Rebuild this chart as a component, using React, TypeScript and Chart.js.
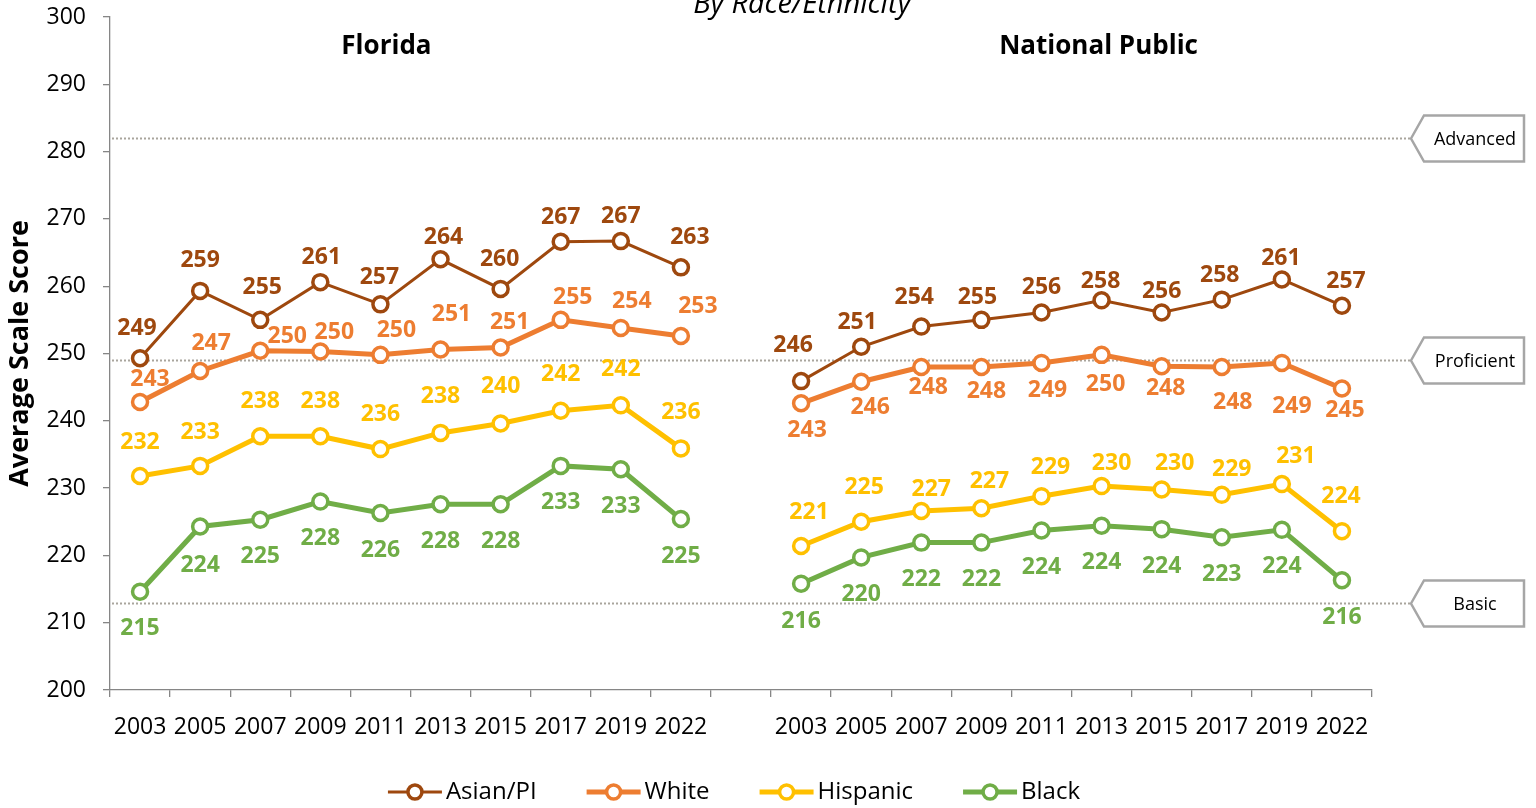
import React, { useEffect, useRef } from 'react';
import { Chart, registerables } from 'chart.js';

Chart.register(...registerables);

const FONT = "'Open Sans', 'Noto Sans', sans-serif";

const years = ['2003', '2005', '2007', '2009', '2011', '2013', '2015', '2017', '2019', '2022'];
const categories = [...years, '', ...years];

const floridaAsian = [249.3, 259.3, 255.0, 260.6, 257.3, 264.0, 259.6, 266.6, 266.7, 262.8];
const floridaWhite = [242.8, 247.4, 250.4, 250.3, 249.8, 250.6, 250.9, 255.0, 253.8, 252.6];
const floridaHispanic = [231.8, 233.3, 237.7, 237.7, 235.8, 238.2, 239.6, 241.5, 242.3, 235.9];
const floridaBlack = [214.6, 224.3, 225.3, 228.0, 226.3, 227.6, 227.6, 233.3, 232.8, 225.4];

const nationalAsian = [245.9, 251.0, 254.0, 255.0, 256.1, 257.9, 256.1, 258.0, 261.0, 257.1];
const nationalWhite = [242.6, 245.8, 248.0, 248.0, 248.6, 249.8, 248.1, 248.0, 248.6, 244.8];
const nationalHispanic = [221.4, 225.0, 226.6, 227.0, 228.8, 230.3, 229.8, 229.0, 230.6, 223.6];
const nationalBlack = [215.8, 219.7, 221.9, 221.9, 223.7, 224.4, 223.9, 222.7, 223.8, 216.3];

const seriesNames = ['Asian/PI', 'White', 'Hispanic', 'Black'];
const seriesColors = ['#9E480E', '#ED7D31', '#FFC000', '#70AD47'];
const seriesLineWidths = [3, 5, 5, 5];

const seriesValues = [
  [...floridaAsian, null, ...nationalAsian],
  [...floridaWhite, null, ...nationalWhite],
  [...floridaHispanic, null, ...nationalHispanic],
  [...floridaBlack, null, ...nationalBlack],
];

// data label placement (offset from the point, in px)
const labelDx = [
  [-3, 0, 2, 1, -1, 3, -1, 0, 0, 9, 0, -8, -4, -7, -4, 0, -1, 0, -2, -1, 4],
  [10, 11, 27, 14, 16, 11, 9, 12, 11, 17, 0, 6, 9, 7, 5, 6, 4, 4, 11, 10, 3],
  [0, 0, 0, 0, 0, 0, 0, 0, 0, 0, 0, 8, 3, 10, 8, 9, 10, 13, 10, 14, -1],
  [0, 0, 0, 0, 0, 0, 0, 0, 0, 0, 0, 0, 0, 0, 0, 0, 0, 0, 0, 0, 0],
];
const labelDy = [
  [-30, -30, -32, -25, -27, -22, -29, -24, -25, -30, 0, -36, -24, -29, -22, -25, -19, -21, -24, -21, -24],
  [-23, -28, -14, -19, -24, -35, -25, -22, -26, -30, 0, 27, 26, 20, 24, 28, 30, 22, 35, 44, 22],
  [-34, -33, -35, -35, -35, -36, -37, -36, -36, -36, 0, -34, -34, -22, -27, -29, -23, -26, -25, -28, -35],
  [37, 39, 37, 37, 37, 37, 37, 37, 37, 37, 0, 38, 37, 37, 37, 37, 37, 37, 37, 37, 37],
];

const benchmarkNames = ['Advanced', 'Proficient', 'Basic'];
const benchmarkValues = [282, 249, 213];

const chartTitle = 'By Race/Ethnicity';
const panelTitles = ['Florida', 'National Public'];
const panelTitleAt = [4.1, 15.95];

const overlayPlugin = {
  id: 'overlay',
  beforeDatasetsDraw(chart: any) {
    const { ctx, chartArea, scales } = chart;
    const y = scales.y;
    ctx.save();
    benchmarkValues.forEach((v, i) => {
      const py = Math.round(y.getPixelForValue(v)) + 0.5;
      const tipX = 1411;
      ctx.strokeStyle = '#A9A59D';
      ctx.lineWidth = 2;
      ctx.setLineDash([2, 2]);
      ctx.beginPath();
      ctx.moveTo(chartArea.left + 2, py);
      ctx.lineTo(tipX, py);
      ctx.stroke();
      ctx.setLineDash([]);
      // callout
      const left = 1424, right = 1524, half = 23;
      ctx.beginPath();
      ctx.moveTo(tipX, py);
      ctx.lineTo(left, py - half);
      ctx.lineTo(right, py - half);
      ctx.lineTo(right, py + half);
      ctx.lineTo(left, py + half);
      ctx.closePath();
      ctx.fillStyle = '#FFFFFF';
      ctx.fill();
      ctx.strokeStyle = '#A6A6A6';
      ctx.lineWidth = 2.5;
      ctx.stroke();
      ctx.fillStyle = '#000000';
      ctx.font = `18px ${FONT}`;
      ctx.textAlign = 'center';
      ctx.textBaseline = 'middle';
      ctx.fillText(benchmarkNames[i], (left + right) / 2 + 1, py + 1);
    });
    ctx.restore();
  },
  afterDatasetsDraw(chart: any) {
    const { ctx } = chart;
    ctx.save();
    ctx.font = `bold 23px ${FONT}`;
    ctx.textAlign = 'center';
    ctx.textBaseline = 'middle';
    chart.data.datasets.forEach((ds: any, i: number) => {
      const meta = chart.getDatasetMeta(i);
      ctx.fillStyle = seriesColors[i];
      ds.data.forEach((v: number | null, j: number) => {
        if (v === null) return;
        const el = meta.data[j];
        ctx.fillText(String(Math.round(v)), el.x + labelDx[i][j], el.y + labelDy[i][j]);
      });
    });
    ctx.restore();
  },
  afterDraw(chart: any) {
    const { ctx, scales } = chart;
    const x = scales.x;
    ctx.save();
    ctx.fillStyle = '#000000';
    ctx.textAlign = 'center';
    // main title (cut at top)
    ctx.font = `italic 29px ${FONT}`;
    ctx.textBaseline = 'alphabetic';
    ctx.fillText(chartTitle, 802, 13);
    // panel titles
    ctx.font = `bold 26px ${FONT}`;
    ctx.textBaseline = 'middle';
    panelTitles.forEach((t, i) => {
      ctx.fillText(t, x.getPixelForValue(panelTitleAt[i]), 47);
    });
    // legend
    ctx.font = `24px ${FONT}`;
    const lineW = 54, gapText = 4, gapItem = 50;
    const widths = seriesNames.map((n) => lineW + gapText + ctx.measureText(n).width);
    const total = widths.reduce((a, b) => a + b, 0) + gapItem * (seriesNames.length - 1);
    let cx = 734 - total / 2;
    const ly = 792;
    seriesNames.forEach((n, i) => {
      ctx.strokeStyle = seriesColors[i];
      ctx.lineWidth = seriesLineWidths[i];
      ctx.beginPath();
      ctx.moveTo(cx, ly);
      ctx.lineTo(cx + lineW, ly);
      ctx.stroke();
      ctx.beginPath();
      ctx.arc(cx + lineW / 2, ly, 7, 0, Math.PI * 2);
      ctx.fillStyle = '#FFFFFF';
      ctx.fill();
      ctx.lineWidth = 3.5;
      ctx.stroke();
      ctx.fillStyle = '#000000';
      ctx.textAlign = 'left';
      ctx.fillText(n, cx + lineW + gapText, ly);
      cx += widths[i] + gapItem;
    });
    ctx.restore();
  },
};

export default function App() {
  const canvasRef = useRef<HTMLCanvasElement | null>(null);

  useEffect(() => {
    if (!canvasRef.current) return;
    const chart = new Chart(canvasRef.current, {
      type: 'line',
      data: {
        labels: categories,
        datasets: seriesNames.map((name, i) => ({
          label: name,
          data: seriesValues[i],
          borderColor: seriesColors[i],
          backgroundColor: seriesColors[i],
          borderWidth: seriesLineWidths[i],
          pointRadius: 7.5,
          pointBorderWidth: 3.5,
          pointBackgroundColor: '#FFFFFF',
          pointBorderColor: seriesColors[i],
          spanGaps: false,
          tension: 0,
        })),
      },
      options: {
        responsive: false,
        animation: false,
        devicePixelRatio: 1,
        layout: { padding: { left: 0, right: 164, top: 17, bottom: 0 } },
        plugins: {
          legend: { display: false },
          tooltip: { enabled: false },
          title: { display: false },
        },
        scales: {
          x: {
            type: 'category',
            offset: true,
            grid: {
              offset: true,
              drawOnChartArea: false,
              drawTicks: true,
              tickLength: 7,
              color: '#868686',
              lineWidth: 1.3,
            },
            border: { color: '#868686', width: 1.3 },
            ticks: {
              autoSkip: false,
              maxRotation: 0,
              padding: 17,
              color: '#000000',
              font: { family: FONT, size: 23 },
            },
            afterFit: (s: any) => {
              s.height = 118;
              s.paddingLeft = 0;
              s.paddingRight = 0;
            },
          },
          y: {
            min: 200,
            max: 300,
            grid: {
              drawOnChartArea: false,
              drawTicks: true,
              tickLength: 7,
              color: '#868686',
              lineWidth: 1.3,
            },
            border: { color: '#868686', width: 1.3 },
            ticks: {
              stepSize: 10,
              padding: 17,
              color: '#000000',
              font: { family: FONT, size: 23 },
            },
            title: {
              display: true,
              text: 'Average Scale Score',
              color: '#000000',
              font: { family: FONT, size: 27, weight: 'bold' },
              padding: { top: 4, bottom: 0 },
            },
            afterFit: (s: any) => {
              s.width = 110;
              s.paddingTop = 0;
              s.paddingBottom = 0;
            },
          },
        },
      },
      plugins: [overlayPlugin],
    });
    return () => chart.destroy();
  }, []);

  return (
    <div style={{ position: 'fixed', left: 0, top: 0, width: 1536, height: 808, background: '#FFFFFF' }}>
      <canvas ref={canvasRef} width={1536} height={808} style={{ display: 'block', width: 1536, height: 808 }} />
    </div>
  );
}
